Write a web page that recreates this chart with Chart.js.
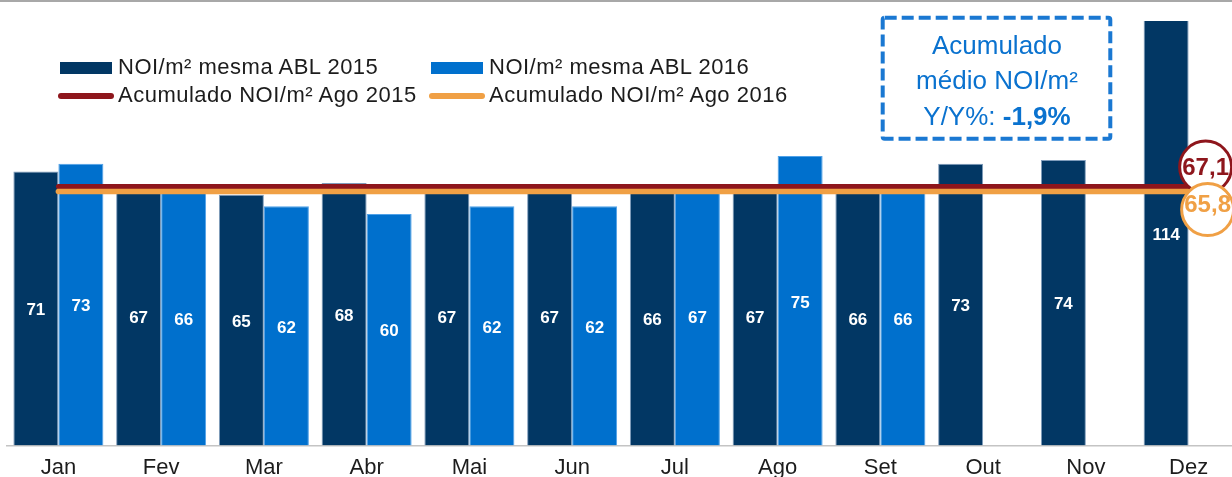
<!DOCTYPE html>
<html>
<head>
<meta charset="utf-8">
<script src="https://cdn.jsdelivr.net/npm/chart.js@4.4.1/dist/chart.umd.min.js"></script>
<style>
  html, body { margin:0; padding:0; background:#fff; }
  #wrap { position:relative; width:1232px; height:477px; overflow:hidden; background:#fff; font-family:"Liberation Sans", Arial, sans-serif; }
  #topline { position:absolute; left:0; top:0; width:1232px; height:2px; background:#a8a8a8; z-index:3; }
  #c { position:absolute; left:0; top:0; }
  .lg { position:absolute; font-size:22px; line-height:26px; color:#1c1c1c; white-space:nowrap; letter-spacing:0.5px; }
  .sw { position:absolute; }
  #boxsvg { position:absolute; left:0; top:0; z-index:2; }
  .bx { position:absolute; left:880px; width:234px; text-align:center; font-size:26px; line-height:35px; color:#0a72cf; white-space:nowrap; z-index:2; }
</style>
</head>
<body>
<div id="wrap">
  <div id="topline"></div>
  <canvas id="c" width="1248" height="490"></canvas>

  <div class="sw" style="left:60px;top:62px;width:52px;height:12px;background:#023764;"></div>
  <div class="lg" style="left:118px;top:54px;">NOI/m² mesma ABL 2015</div>
  <div class="sw" style="left:431px;top:62px;width:52px;height:12px;background:#0070cd;"></div>
  <div class="lg" style="left:489px;top:54px;">NOI/m² mesma ABL 2016</div>
  <div class="sw" style="left:58px;top:93px;width:56px;height:6px;border-radius:3px;background:#8e161c;"></div>
  <div class="lg" style="left:118px;top:82px;">Acumulado NOI/m² Ago 2015</div>
  <div class="sw" style="left:429px;top:93px;width:56px;height:6px;border-radius:3px;background:#f0a045;"></div>
  <div class="lg" style="left:489px;top:82px;">Acumulado NOI/m² Ago 2016</div>

  <svg id="boxsvg" width="1232" height="160">
    <rect x="882.7" y="17.7" width="227.6" height="121" rx="2" ry="2" fill="none" stroke="#1a78d2" stroke-width="4" stroke-dasharray="12 5"></rect>
  </svg>
  <div class="bx" style="top:28px;">Acumulado</div>
  <div class="bx" style="top:63px;">médio NOI/m²</div>
  <div class="bx" style="top:99px;">Y/Y%: <b>-1,9%</b></div>
</div>
<script>
const months = ['Jan','Fev','Mar','Abr','Mai','Jun','Jul','Ago','Set','Out','Nov','Dez'];
const noi2015 = [71, 67, 65, 68, 67, 67, 66, 67, 66, 73, 74, 114];
const noi2016 = [73, 66, 62, 60, 62, 62, 67, 75, 66, null, null, null];
const acum2015 = [67.1, 67.1, 67.1, 67.1, 67.1, 67.1, 67.1, 67.1, 67.1, 67.1, 67.1, 67.1];
const acum2016 = [65.8, 65.8, 65.8, 65.8, 65.8, 65.8, 65.8, 65.8, 65.8, 65.8, 65.8, 65.8];

const barLabels = {
  id: 'barLabels',
  afterDatasetsDraw(chart) {
    const ctx = chart.ctx, area = chart.chartArea;
    ctx.save();
    ctx.fillStyle = '#ffffff';
    ctx.font = 'bold 17px "Liberation Sans", Arial, sans-serif';
    ctx.textAlign = 'center';
    ctx.textBaseline = 'middle';
    chart.data.datasets.forEach((ds, i) => {
      if (ds.type !== 'bar') return;
      const meta = chart.getDatasetMeta(i);
      meta.data.forEach((el, j) => {
        const v = ds.data[j];
        if (v === null || v === undefined) return;
        const top = Math.max(el.y, area.top);
        ctx.fillText(String(Math.round(v)), el.x, (top + el.base) / 2 + 2);
      });
    });
    ctx.restore();
  }
};

const endBubbles = {
  id: 'endBubbles',
  afterDatasetsDraw(chart) {
    const ctx = chart.ctx;
    const specs = [
      { idx: 2, dx: 17, dy: -19.5, stroke: '#8e161c', text: '#8e161c', ty: 1 },
      { idx: 3, dx: 19, dy: 18, stroke: '#f0a045', text: '#f0a045', ty: -4 }
    ];
    specs.forEach(s => {
      const meta = chart.getDatasetMeta(s.idx);
      const last = meta.data.length - 1;
      const pt = meta.data[last];
      const val = chart.data.datasets[s.idx].data[last];
      const cx = pt.x + s.dx, cy = pt.y + s.dy;
      ctx.save();
      ctx.beginPath();
      ctx.arc(cx, cy, 26, 0, Math.PI * 2);
      ctx.fillStyle = '#ffffff';
      ctx.fill();
      ctx.lineWidth = 3;
      ctx.strokeStyle = s.stroke;
      ctx.stroke();
      ctx.fillStyle = s.text;
      ctx.font = 'bold 24px "Liberation Sans", Arial, sans-serif';
      ctx.textAlign = 'center';
      ctx.textBaseline = 'middle';
      ctx.fillText(val.toFixed(1).replace('.', ','), cx, cy + s.ty);
      ctx.restore();
    });
  }
};

new Chart(document.getElementById('c'), {
  data: {
    labels: months,
    datasets: [
      { type: 'bar', label: 'NOI/m² mesma ABL 2015', data: noi2015, backgroundColor: '#023764', borderColor: '#7f9cbc', borderWidth: 1, clip: 0, order: 3, categoryPercentage: 0.876, barPercentage: 1 },
      { type: 'bar', label: 'NOI/m² mesma ABL 2016', data: noi2016, backgroundColor: '#0070cd', borderColor: '#4fa1e8', borderWidth: 1, clip: 0, order: 3, categoryPercentage: 0.876, barPercentage: 1 },
      { type: 'line', label: 'Acumulado NOI/m² Ago 2015', data: acum2015, borderColor: '#8e161c', borderWidth: 5, borderCapStyle: 'round', pointRadius: 0, tension: 0, order: 1 },
      { type: 'line', label: 'Acumulado NOI/m² Ago 2016', data: acum2016, borderColor: '#f0a045', borderWidth: 5.5, borderCapStyle: 'round', pointRadius: 0, tension: 0, order: 0 }
    ]
  },
  options: {
    responsive: false,
    animation: false,
    devicePixelRatio: 1,
    layout: { padding: { left: 7, right: 8, top: 21, bottom: 0 } },
    plugins: { legend: { display: false }, tooltip: { enabled: false } },
    scales: {
      x: {
        offset: true,
        grid: { display: false, drawTicks: false },
        border: { display: true, color: '#c4c4c4', width: 1.5 },
        ticks: { color: '#1c1c1c', padding: 9, font: { family: '"Liberation Sans", Arial, sans-serif', size: 22, lineHeight: 1.2 }, maxRotation: 0, autoSkip: false }
      },
      y: { display: false, min: 0, max: 110 }
    }
  },
  plugins: [barLabels, endBubbles]
});
</script>
</body>
</html>
